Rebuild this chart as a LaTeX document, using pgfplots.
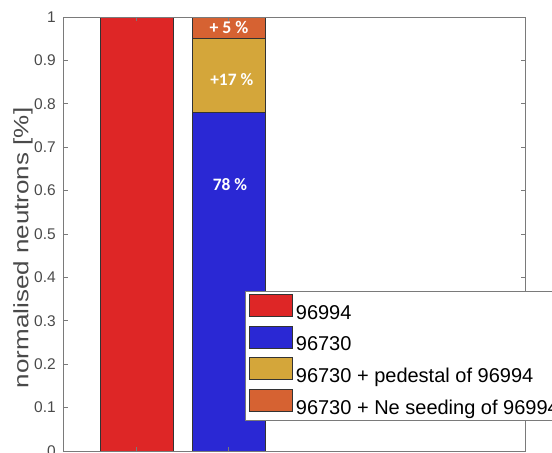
\documentclass[border=0pt]{standalone}
\usepackage{pgfplots}
\pgfplotsset{compat=1.18}
\usepackage{fontspec}
\setmainfont{Liberation Sans}
\newfontfamily\calib{Carlito}
\definecolor{cred}{HTML}{DE2626}
\definecolor{cblue}{HTML}{2A28D4}
\definecolor{cgold}{HTML}{D4A63A}
\definecolor{corange}{HTML}{D66232}
\definecolor{axgray}{HTML}{7A7A7A}
\definecolor{tickgray}{HTML}{4A4A4A}
\definecolor{barline}{HTML}{333333}
\begin{document}
\begin{tikzpicture}
\begin{axis}[
  scale only axis, width=230.5pt, height=217pt,
  xmin=0.207, xmax=5.217, ymin=0, ymax=1,
  xtick={1,2}, xticklabels={},
  ytick={0,0.1,0.2,0.3,0.4,0.5,0.6,0.7,0.8,0.9,1},
  yticklabels={0,0.1,0.2,0.3,0.4,0.5,0.6,0.7,0.8,0.9,1},
  tick align=inside, tick pos=both, major tick length=2.2pt,
  axis on top,
  axis line style={draw=axgray, line width=0.5pt},
  every tick/.style={axgray, line width=0.5pt},
  tick label style={font=\fontsize{7.75}{9}\selectfont, text=tickgray},
  yticklabel style={xshift=-0.6pt},
  /pgf/number format/assume math mode=true,
  ylabel={\scalebox{1}[0.8]{normalised neutrons [\%]}},
  ylabel style={at={(axis description cs:-0.089,0.468)}, anchor=center, font=\fontsize{13}{15}\selectfont, text=tickgray},
  mybar/.style={ybar, bar width=0.8, bar shift=0pt, draw=barline, line width=0.5pt},
  legend cell align=left,
  legend image code/.code={\draw[#1] (0pt,-1.6pt) rectangle (21.5pt,9.4pt);},
  legend style={at={(rel axis cs:0.3926,0.3687)}, anchor=north west,
    draw=axgray, line width=0.5pt, inner xsep=2pt, inner ysep=1.4pt,
    row sep=1.9pt, font=\fontsize{10}{12}\selectfont, text=black,
    nodes={inner xsep=1.2pt, inner ysep=0pt}},
]
\addlegendimage{fill=cred, draw=barline, line width=0.5pt}
\addlegendentry{96994}
\addlegendimage{fill=cblue, draw=barline, line width=0.5pt}
\addlegendentry{96730}
\addlegendimage{fill=cgold, draw=barline, line width=0.5pt}
\addlegendentry{96730 + pedestal of 96994}
\addlegendimage{fill=corange, draw=barline, line width=0.5pt}
\addlegendentry{96730 + Ne seeding of 96994}

\addplot[mybar, fill=cred, forget plot] coordinates {(1,1.0)};
\addplot[mybar, fill=corange, forget plot] coordinates {(2,1.0)};
\addplot[mybar, fill=cgold, forget plot] coordinates {(2,0.95)};
\addplot[mybar, fill=cblue, forget plot] coordinates {(2,0.78)};

\node[font=\calib\bfseries\fontsize{8.7}{10}\selectfont, text=white] at (axis cs:2.01,0.613) {78 \%};
\node[font=\calib\bfseries\fontsize{8.7}{10}\selectfont, text=white] at (axis cs:2.03,0.855) {+17 \%};
\node[font=\calib\bfseries\fontsize{8.9}{10}\selectfont, text=white] at (axis cs:2.0,0.975) {+ 5 \%};
\end{axis}
\pgfresetboundingbox
\useasboundingbox (-32pt,-0.5pt) rectangle (244pt,225.5pt);
\end{tikzpicture}
\end{document}
